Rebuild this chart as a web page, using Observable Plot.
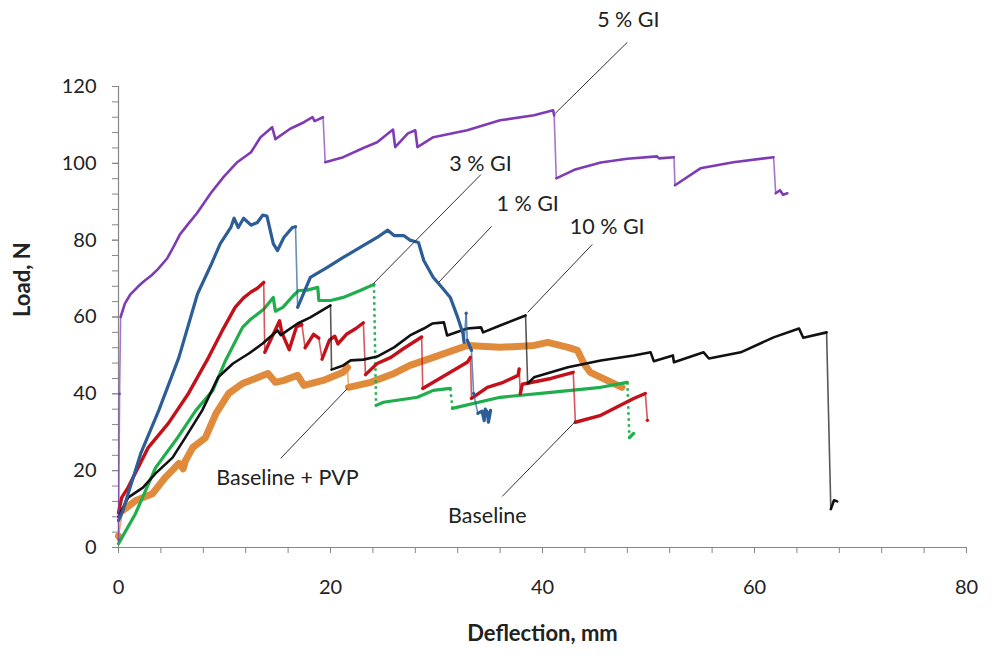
<!DOCTYPE html>
<html>
<head>
<meta charset="utf-8">
<script src="https://cdn.jsdelivr.net/npm/d3@7"></script>
<script src="https://cdn.jsdelivr.net/npm/@observablehq/plot@0.6"></script>
<style>
  html, body { margin: 0; padding: 0; background: #fff; }
  #chart { width: 995px; height: 659px; }
</style>
</head>
<body>
<div id="chart"></div>
<script>
// Load–deflection curves, [deflection mm, load N]
const gi5 = [[0,2],[0.1,40],[0.2,60],[0.6,63.5],[1.1,65.8],[1.8,67.8],[2.4,69.3],[3.1,70.8],[3.7,72.4],[4.6,75.3],[5.2,78.3],[5.8,81.5],[6.6,84.3],[7.4,87],[8.7,92.2],[9.9,96.4],[11.2,100.3],[12.5,102.9],[13.4,106.8],[14.5,109.4],[14.8,106.3],[16.2,109],[17.5,110.7],[18.3,112],[18.5,111],[19.3,112],[19.5,100.3],[21.2,101.6],[23.1,104],[24.4,105.5],[25.9,108.8],[26.1,104.2],[27.3,107.8],[28,108.6],[28.2,104.2],[29.7,106.8],[32.9,108.6],[36,111.2],[39.2,112.5],[41,113.8],[41.1,112.5],[41.3,96.1],[43,98.3],[45.5,100.2],[48,101.2],[50.8,101.8],[51,101.3],[52.4,101.6],[52.5,94.3],[54.9,98.7],[58,100.3],[61.8,101.6],[62,92.2],[62.4,93],[62.7,91.8],[63.1,92.2]];

const gi1 = [[0,7],[0.4,9.5],[2.1,24.5],[3.8,35.7],[5.7,49.5],[7.45,66],[8.7,73.4],[9.6,79.1],[10.6,83.3],[10.9,85.7],[11.3,83.3],[11.8,85.7],[12.5,83.9],[13.1,84.6],[13.6,86.5],[14,86.3],[14.6,79.1],[15,77.3],[15.6,80.7],[16.4,83.3],[16.7,83.5],[16.9,62.5],[18.1,70.3],[19.7,72.9],[21.2,75.5],[22.8,78.1],[24.4,80.7],[25.4,82.6],[26,81.2],[26.9,81.2],[27.5,80],[28.3,79.4],[28.8,74.7],[29.7,70.3],[30.6,67.4],[31.3,65.1],[32,59.9],[32.5,55.7],[32.6,53.4],[32.8,61],[32.9,54],[33.3,51.3],[33.5,40.1],[33.9,34.9],[34.3,35.5],[34.5,33],[34.6,36],[34.8,35.2],[34.9,32.6],[35.1,35.7]];

const gi3 = [[0,1],[1.6,8.8],[3.5,20.8],[5.4,27.9],[7.3,35.7],[8.9,40.9],[10.1,48.7],[11.7,57.3],[12.5,59.5],[13.7,62],[14.6,65.1],[14.8,61.5],[15.5,62.5],[16.5,65.6],[17,66.9],[17.8,67],[18.8,67.7],[18.9,64.3],[20,64.3],[21.2,65.1],[22.8,66.9],[24.1,68.5],[24.3,37],[25,37.8],[28.2,39.1],[29.7,40.9],[31.3,41.4],[31.5,36.2],[36,39.1],[40.8,40.4],[45.5,41.7],[48,43],[48.2,28.6],[48.6,29.7]];

const gi10 = [[0,8],[0.9,13],[2.3,15.6],[3.5,19.3],[5.1,23.4],[6.3,28.6],[7.9,35.7],[9.4,44.3],[10.8,47.9],[12.3,50.5],[13.6,53.1],[15,56.5],[15.3,55.3],[16.9,58.3],[18.1,59.9],[20,63],[20.1,46.3],[21.2,47.4],[21.9,48.7],[23.1,48.9],[24.4,49.7],[26,52.1],[27.5,55.2],[28.8,57],[29.6,58.3],[30.7,58.6],[31,55.2],[32.9,57],[34.2,57.3],[34.4,56],[36,57.8],[38.4,60.4],[38.6,42.7],[39.2,44.3],[42.4,46.9],[45.5,48.7],[48.6,50],[50.2,50.8],[50.5,48.5],[52.3,50],[52.4,48.2],[55.2,50.8],[55.7,49.2],[58.7,50.8],[61.8,54.7],[64.2,57],[64.6,54.6],[66.8,56],[67.2,10],[67.5,12.3],[67.8,12]];

const pvp = [[0,3],[0.4,9.6],[1.6,12.2],[3.2,14],[4.4,18.2],[5.7,21.9],[6.1,20.5],[6.3,22.5],[7,26],[8.2,28.6],[9.2,34.9],[10.4,40.1],[11.7,42.7],[13.2,44.3],[14.1,45.3],[14.8,43],[15.6,43.5],[16.4,44.3],[16.9,44.8],[17.5,42.2],[19.3,43.5],[21.2,45.6],[21.6,46.9],[21.7,41.7],[23.8,43],[26,45.3],[27.5,47.4],[29.7,49.5],[32.9,52.6],[36,52.1],[39.2,52.6],[40.5,53.4],[42.4,52.1],[43.3,51.3],[43.9,47.9],[44.5,45.6],[46.1,43.5],[47.5,41.7]];

const baseline = [[0,9],[0.3,13],[0.9,15.6],[2.8,26],[4.7,32.3],[6.6,40.1],[8.5,49.5],[9.8,56.5],[11,62.5],[11.8,65],[12.5,66.5],[13.1,67.5],[13.7,69],[13.8,50.8],[15.2,59],[15.4,56],[16.1,51.5],[16.8,57.5],[17.3,58],[17.6,52],[18.4,55.5],[18.9,54.5],[19.2,49],[19.9,54],[20.4,55],[20.7,53],[21.5,55.5],[22.4,57],[23.1,58.5],[23.3,45],[24.4,47.9],[25.7,49.5],[26.9,51.8],[28.6,54.8],[28.7,41.4],[29.7,43],[31.3,45.6],[32.9,48.2],[33.2,49.5],[33.3,38.8],[34.8,41.7],[36.3,43],[37.7,44.8],[37.8,46.5],[37.9,40],[38.1,42.5],[40.8,44],[42.9,45.6],[43.1,32.6],[45.5,34.4],[48.6,38.8],[49.7,40.1],[49.9,33.1]];

// Series drawing order (first = bottom) and styles
const seriesNames = ["Baseline + PVP", "3 % GI", "Baseline", "10 % GI", "1 % GI", "5 % GI"];
const seriesData  = [pvp, gi3, baseline, gi10, gi1, gi5];
const seriesColors = ["#e08a3c", "#1fae4b", "#c41018", "#111111", "#2c5d96", "#7d3cb5"];
const seriesWidths = [7, 3.2, 3.4, 2.6, 3.2, 2.6];

// Annotation labels and leader lines
const labelText = ["5 % GI", "3 % GI", "1 % GI", "10 % GI", "Baseline + PVP", "Baseline"];
const labelX = [48.1, 34.15, 38.6, 46.1, 15.94, 34.8];
const labelY = [137.2, 99.9, 89.3, 83.3, 18.0, 8.3];
const leaderFrom = [[48.0, 131.5], [34.2, 97.1], [35.2, 83.6], [44.7, 78.9], [15.3, 23.2], [36.2, 13.3]];
const leaderTo   = [[41.2, 113.0], [24.06, 68.75], [30.2, 69.0], [38.6, 61.2], [21.6, 41.4], [43.1, 32.8]];

// Axis ticks
const xMajor = [0, 20, 40, 60, 80];
const yMajor = [0, 20, 40, 60, 80, 100, 120];
const xMinor = d3.range(0, 81, 4);
const yMinor = d3.range(0, 121, 4);

// Split each curve into continuous runs and sudden load drops
const runs = [], drops = [];
seriesData.forEach((pts, s) => {
  let run = 0;
  pts.forEach((p, i) => {
    if (i > 0) {
      const q = pts[i - 1];
      const isDrop = Math.abs(p[0] - q[0]) <= 0.45 && Math.abs(p[1] - q[1]) >= 5;
      if (isDrop) {
        drops.push({s, x1: q[0], y1: q[1], x2: p[0], y2: p[1]});
        run++;
      }
    }
    runs.push({s, key: s + "-" + run, x: p[0], y: p[1]});
  });
});

const labels = labelText.map((t, i) => ({t, x: labelX[i], y: labelY[i]}));
const leaders = leaderFrom.map((f, i) => ({x1: f[0], y1: f[1], x2: leaderTo[i][0], y2: leaderTo[i][1]}));

const axisGray = "#868686";
const marks = [
  Plot.axisX(xMinor, {tickSize: 6, stroke: axisGray, tickFormat: () => "", label: null}),
  Plot.axisY(yMinor, {tickSize: 6, stroke: axisGray, tickFormat: () => "", label: null}),
  Plot.axisX(xMajor, {tickSize: 6, tickPadding: 26, stroke: axisGray, fill: "#222", label: null}),
  Plot.axisY(yMajor, {tickSize: 6, tickPadding: 16, stroke: axisGray, fill: "#222", label: null}),
  Plot.ruleX([0], {y1: 0, y2: 120, stroke: axisGray, strokeWidth: 1.2}),
  Plot.ruleY([0], {x1: 0, x2: 80, stroke: axisGray, strokeWidth: 1.2})
];

seriesData.forEach((_, s) => {
  const color = seriesColors[s];
  marks.push(Plot.line(runs.filter(d => d.s === s), {
    x: "x", y: "y", z: "key", stroke: color, strokeWidth: seriesWidths[s],
    strokeLinejoin: "round", strokeLinecap: "round"
  }));
  const dotted = seriesNames[s] === "3 % GI";
  marks.push(Plot.link(drops.filter(d => d.s === s), {
    x1: "x1", y1: "y1", x2: "x2", y2: "y2", stroke: color,
    strokeWidth: dotted ? 2.5 : 1.6,
    strokeOpacity: dotted ? 1 : 0.7,
    strokeDasharray: dotted ? "2.5,3.5" : null
  }));
});

marks.push(
  Plot.link(leaders, {x1: "x1", y1: "y1", x2: "x2", y2: "y2", stroke: "#333", strokeWidth: 1}),
  Plot.text(labels, {x: "x", y: "y", text: "t", fill: "#222", fontSize: 21.5, textAnchor: "middle"}),
  Plot.text(["Load, N"], {frameAnchor: "left", dx: -96, rotate: -90, fontWeight: "bold", fontSize: 22, fill: "#222"}),
  Plot.text(["Deflection, mm"], {frameAnchor: "bottom", dy: 93, fontWeight: "bold", fontSize: 22, fill: "#222"})
);

const chart = Plot.plot({
  width: 995,
  height: 659,
  marginLeft: 118,
  marginRight: 29,
  marginTop: 86,
  marginBottom: 112,
  x: {domain: [0, 80]},
  y: {domain: [0, 120]},
  style: {fontFamily: "Lato, 'Open Sans', sans-serif", fontSize: "20px", background: "#fff", color: "#222"},
  marks
});
document.getElementById("chart").append(chart);
</script>
</body>
</html>
